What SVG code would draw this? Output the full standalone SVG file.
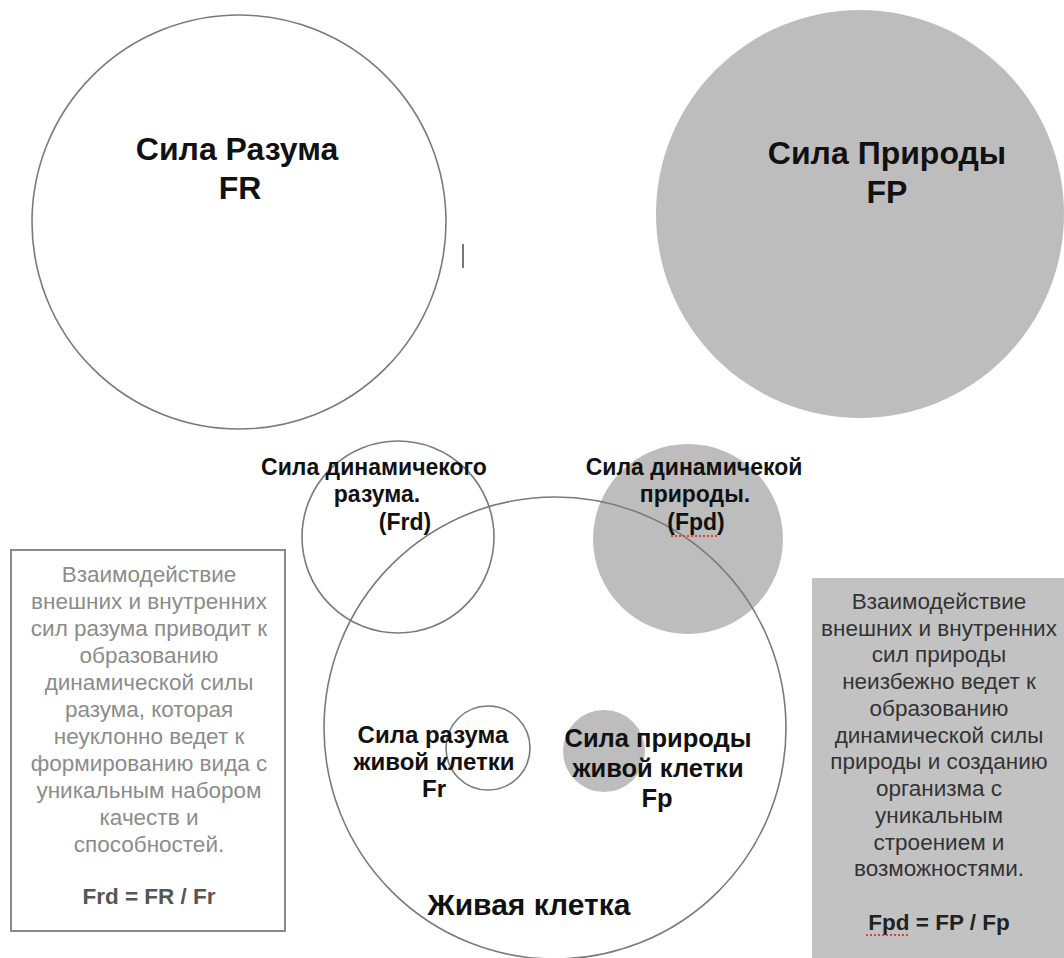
<svg xmlns="http://www.w3.org/2000/svg" width="1064" height="958" viewBox="0 0 1064 958">
<style>
  .lbl { font-family: "Liberation Sans", Arial, sans-serif; font-weight: bold; fill: #111; text-anchor: middle; }
  .big { font-size: 32px; }
  .dyn { font-size: 23px; }
  .cr { font-size: 24px; }
  .cn { font-size: 25.5px; }
  .cell { font-size: 30px; }
  .body { font-family: "Liberation Sans", Arial, sans-serif; font-size: 22.5px; text-anchor: middle; }
  .ring { fill: none; stroke: #7a7a7a; stroke-width: 1.6; }
  .solid { fill: #bdbdbd; stroke: none; }
  .spell { stroke: #e04040; stroke-width: 2; stroke-dasharray: 2 2; }
</style>
<rect width="1064" height="958" fill="#ffffff"/>

<g id="force-reason">
  <circle class="ring" cx="239" cy="222" r="207"/>
  <text class="lbl big" x="237" y="160" font-size="33">Сила Разума</text>
  <text class="lbl big" x="240" y="199">FR</text>
</g>

<line x1="463" y1="244" x2="463" y2="268" stroke="#777" stroke-width="2"/>

<g id="force-nature">
  <circle class="solid" cx="860" cy="214" r="204"/>
  <text class="lbl big" x="887" y="164">Сила Природы</text>
  <text class="lbl big" x="887" y="203">FP</text>
</g>

<g id="box-reason">
  <rect x="11" y="550" width="274" height="381" fill="#ffffff" stroke="#8a8a8a" stroke-width="2"/>
  <g class="body" fill="#8c8c8c">
    <text x="149" y="582">Взаимодействие</text>
    <text x="149" y="609">внешних и внутренних</text>
    <text x="149" y="636">сил разума приводит к</text>
    <text x="149" y="663">образованию</text>
    <text x="149" y="690">динамической силы</text>
    <text x="149" y="717">разума, которая</text>
    <text x="149" y="744">неуклонно ведет к</text>
    <text x="149" y="771">формированию вида с</text>
    <text x="149" y="798">уникальным набором</text>
    <text x="149" y="825">качеств и</text>
    <text x="149" y="852">способностей.</text>
    <text x="149" y="904" font-weight="bold" fill="#555">Frd = FR / Fr</text>
  </g>
</g>

<g id="box-nature">
  <rect x="812" y="578" width="252" height="380" fill="#c2c2c2"/>
  <g class="body" fill="#333">
    <text x="939" y="609">Взаимодействие</text>
    <text x="939" y="636">внешних и внутренних</text>
    <text x="939" y="662">сил природы</text>
    <text x="939" y="689">неизбежно ведет к</text>
    <text x="939" y="716">образованию</text>
    <text x="939" y="743">динамической силы</text>
    <text x="939" y="769">природы и созданию</text>
    <text x="939" y="796">организма с</text>
    <text x="939" y="823">уникальным</text>
    <text x="939" y="850">строением и</text>
    <text x="939" y="876">возможностями.</text>
    <text x="939" y="930" font-weight="bold" fill="#222">Fpd = FP / Fp</text>
  </g>
  <line class="spell" x1="866" y1="935" x2="910" y2="935"/>
</g>

<g id="dynamic-reason">
  <circle class="ring" cx="398" cy="537" r="96"/>
</g>

<g id="dynamic-nature">
  <circle class="solid" cx="688" cy="539" r="95"/>
</g>

<g id="living-cell">
  <circle class="ring" cx="555" cy="728" r="231"/>
  <text class="lbl cell" x="529" y="915">Живая клетка</text>
</g>

<g id="cell-reason">
  <circle class="ring" cx="488" cy="748" r="42"/>
  <text class="lbl cr" x="433" y="743">Сила разума</text>
  <text class="lbl cr" x="434" y="770">живой клетки</text>
  <text class="lbl cr" x="434" y="797">Fr</text>
</g>

<g id="cell-nature">
  <circle class="solid" cx="604" cy="751" r="41"/>
  <text class="lbl cn" x="658" y="747">Сила природы</text>
  <text class="lbl cn" x="658" y="777">живой клетки</text>
  <text class="lbl cn" x="657" y="807">Fp</text>
</g>

<g id="dynamic-labels">
  <text class="lbl dyn" x="374" y="475">Сила динамичекого</text>
  <text class="lbl dyn" x="377" y="502">разума.</text>
  <text class="lbl dyn" x="405" y="530">(Frd)</text>
  <text class="lbl dyn" x="694" y="475">Сила динамичекой</text>
  <text class="lbl dyn" x="695" y="502">природы.</text>
  <text class="lbl dyn" x="696" y="530">(Fpd)</text>
  <line class="spell" x1="671" y1="536" x2="717" y2="536"/>
</g>
</svg>
